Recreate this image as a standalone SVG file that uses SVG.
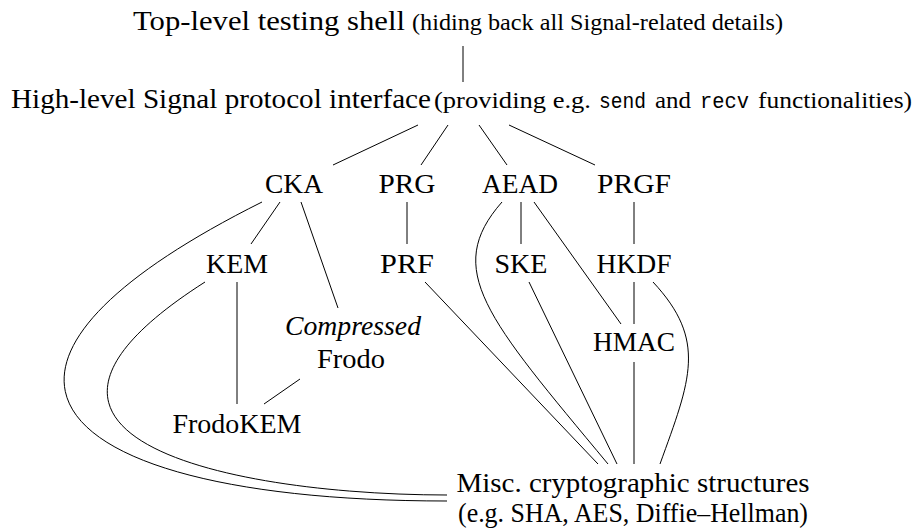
<svg xmlns="http://www.w3.org/2000/svg" width="918" height="531" viewBox="0 0 918 531">
<style>
text{fill:#000;font-size:26.5px;font-family:"Liberation Serif","DejaVu Serif",serif}
.n{text-anchor:middle}
.s{font-size:23.5px}
.tt{font-size:22px;font-family:"Liberation Mono","DejaVu Sans Mono",monospace}
.it{font-style:italic}
#edges path,#edges line{stroke:#000;stroke-width:1;fill:none}
</style>
<rect width="918" height="531" fill="#fff"/>
<g id="edges">
<line x1="463" y1="46" x2="463" y2="82"/>
<line x1="418" y1="125" x2="333" y2="165"/>
<line x1="448" y1="125" x2="421" y2="165"/>
<line x1="479" y1="125" x2="507" y2="165"/>
<line x1="509" y1="125" x2="595" y2="165"/>
<line x1="280" y1="202" x2="251" y2="244"/>
<line x1="301" y1="202" x2="338" y2="308"/>
<line x1="407" y1="202" x2="407" y2="244"/>
<line x1="521" y1="202" x2="521" y2="244"/>
<line x1="634" y1="202" x2="634" y2="244"/>
<line x1="534" y1="202" x2="621" y2="324"/>
<line x1="237" y1="282" x2="237" y2="404"/>
<line x1="300" y1="379" x2="264" y2="404"/>
<line x1="425" y1="282" x2="598" y2="464"/>
<line x1="529" y1="282" x2="617" y2="464"/>
<line x1="634" y1="282" x2="634" y2="324"/>
<line x1="634" y1="362" x2="634" y2="464"/>
<path d="M262,202 C-86.7,376.3 57,501 447,501"/>
<path d="M205,282 C-47.9,443.4 247,495 447,495"/>
<path d="M502,202 C442.6,269.5 486.4,317.7 608,464"/>
<path d="M653,282 C707.4,340.4 690.6,379.4 660,464"/>
</g>
<g id="top"><text x="133" y="30" textLength="272" lengthAdjust="spacingAndGlyphs">Top-level testing shell</text><text class="s" x="412" y="30" textLength="371" lengthAdjust="spacingAndGlyphs">(hiding back all Signal-related details)</text></g>
<g id="interface"><text x="11" y="108" textLength="420" lengthAdjust="spacingAndGlyphs">High-level Signal protocol interface</text><text class="s" x="434" y="108" textLength="157" lengthAdjust="spacingAndGlyphs">(providing e.g.</text><text class="tt" x="599" y="108" textLength="47" lengthAdjust="spacingAndGlyphs">send</text><text class="s" x="655" y="108" textLength="36" lengthAdjust="spacingAndGlyphs">and</text><text class="tt" x="700" y="108" textLength="49" lengthAdjust="spacingAndGlyphs">recv</text><text class="s" x="758" y="108" textLength="154" lengthAdjust="spacingAndGlyphs">functionalities)</text></g>
<g id="CKA"><text class="n" x="294" y="193" textLength="58" lengthAdjust="spacingAndGlyphs">CKA</text></g>
<g id="PRG"><text class="n" x="407" y="193" textLength="57" lengthAdjust="spacingAndGlyphs">PRG</text></g>
<g id="AEAD"><text class="n" x="520" y="193" textLength="76" lengthAdjust="spacingAndGlyphs">AEAD</text></g>
<g id="PRGF"><text class="n" x="634" y="193" textLength="74" lengthAdjust="spacingAndGlyphs">PRGF</text></g>
<g id="KEM"><text class="n" x="237" y="273" textLength="62" lengthAdjust="spacingAndGlyphs">KEM</text></g>
<g id="PRF"><text class="n" x="407" y="273" textLength="54" lengthAdjust="spacingAndGlyphs">PRF</text></g>
<g id="SKE"><text class="n" x="521" y="273" textLength="53" lengthAdjust="spacingAndGlyphs">SKE</text></g>
<g id="HKDF"><text class="n" x="634" y="273" textLength="75" lengthAdjust="spacingAndGlyphs">HKDF</text></g>
<g id="CompressedFrodo"><text class="n it" x="353" y="335" textLength="136" lengthAdjust="spacingAndGlyphs">Compressed</text><text class="n" x="351" y="368" textLength="68" lengthAdjust="spacingAndGlyphs">Frodo</text></g>
<g id="HMAC"><text class="n" x="634" y="351" textLength="82" lengthAdjust="spacingAndGlyphs">HMAC</text></g>
<g id="FrodoKEM"><text class="n" x="237" y="433" textLength="129" lengthAdjust="spacingAndGlyphs">FrodoKEM</text></g>
<g id="Misc"><text class="n" x="633" y="492" textLength="353" lengthAdjust="spacingAndGlyphs">Misc. cryptographic structures</text><text class="n" x="633" y="522" textLength="350" lengthAdjust="spacingAndGlyphs">(e.g. SHA, AES, Diffie–Hellman)</text></g>
</svg>
